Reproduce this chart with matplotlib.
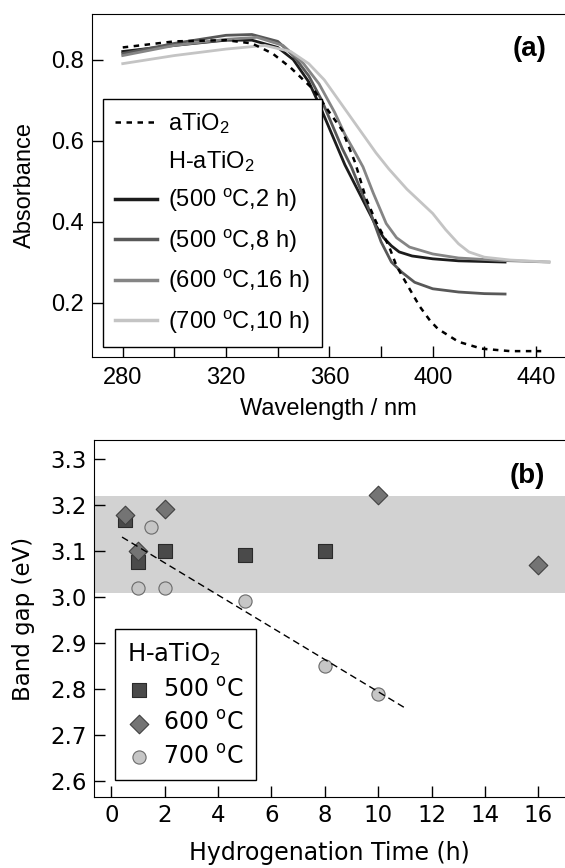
import matplotlib
matplotlib.use("Agg")
import matplotlib.pyplot as plt
from matplotlib.lines import Line2D

plt.rcParams['font.family'] = ['Liberation Sans', 'DejaVu Sans']
plt.rcParams['mathtext.default'] = 'regular'

# ---- panel (a): absorbance spectra ----
wl_a = [280, 300, 320, 330, 338, 345, 354, 360, 365, 370, 374, 378, 383, 386, 390, 395, 399, 402, 410, 419, 430, 442]
abs_a = [0.83, 0.845, 0.848, 0.84, 0.815, 0.78, 0.725, 0.67, 0.625, 0.545, 0.46, 0.40, 0.34, 0.29, 0.245, 0.19, 0.155, 0.135, 0.103, 0.086, 0.08, 0.08]

wl_500_2 = [280, 300, 320, 330, 340, 346, 352, 356, 360, 366, 370, 374, 378, 381, 384, 387, 392, 400, 410, 428]
abs_500_2 = [0.82, 0.835, 0.848, 0.848, 0.83, 0.80, 0.745, 0.69, 0.63, 0.54, 0.49, 0.44, 0.39, 0.36, 0.34, 0.325, 0.315, 0.308, 0.303, 0.30]

wl_500_8 = [280, 300, 320, 330, 340, 346, 352, 357, 361, 365, 368.5, 372, 376, 380, 384, 388, 393, 400, 410, 420, 428]
abs_500_8 = [0.815, 0.84, 0.86, 0.862, 0.845, 0.81, 0.76, 0.70, 0.64, 0.58, 0.535, 0.48, 0.42, 0.35, 0.30, 0.275, 0.25, 0.234, 0.226, 0.222, 0.221]

wl_600_16 = [280, 300, 320, 332, 342, 350, 356, 362, 366, 370, 373, 377, 382, 386, 391, 400, 410, 426, 445]
abs_600_16 = [0.81, 0.835, 0.85, 0.855, 0.835, 0.79, 0.74, 0.67, 0.615, 0.57, 0.535, 0.47, 0.395, 0.36, 0.337, 0.32, 0.31, 0.304, 0.30]

wl_700_10 = [280, 300, 320, 335, 345, 352, 358, 363, 368, 373, 378, 383, 390, 395, 400, 405, 410, 414, 420, 430, 445]
abs_700_10 = [0.79, 0.81, 0.826, 0.835, 0.82, 0.79, 0.75, 0.705, 0.66, 0.615, 0.57, 0.53, 0.48, 0.45, 0.42, 0.38, 0.345, 0.325, 0.312, 0.305, 0.30]

# ---- panel (b): band gap vs hydrogenation time ----
t_500 = [0.5, 1, 2, 5, 8]
eg_500 = [3.168, 3.076, 3.10, 3.09, 3.10]
t_600 = [0.5, 1, 2, 10, 16]
eg_600 = [3.177, 3.10, 3.19, 3.221, 3.069]
t_700 = [1, 1.5, 2, 5, 8, 10]
eg_700 = [3.02, 3.151, 3.02, 2.99, 2.849, 2.789]
fit_t = [0.4, 11.05]
fit_eg = [3.13, 2.757]
band_lo, band_hi = 3.008, 3.219

W, H = 565, 868
fig = plt.figure(figsize=(W / 100, H / 100), dpi=100)

# panel a
ax1 = fig.add_axes([92/W, 511/H, 473/W, 343/H])
ax1.plot(wl_a, abs_a, color='black', lw=1.8, ls=(0, (2.2, 2.2)), zorder=5)
ax1.plot(wl_500_2, abs_500_2, color='#1c1c1c', lw=2)
ax1.plot(wl_500_8, abs_500_8, color='#585858', lw=2)
ax1.plot(wl_600_16, abs_600_16, color='#858585', lw=2)
ax1.plot(wl_700_10, abs_700_10, color='#c4c4c4', lw=2)
ax1.set_xlim(268.1, 451.2)
ax1.set_ylim(0.0655, 0.9126)
ax1.set_xticks([280, 320, 360, 400, 440])
ax1.set_xticks([300, 340, 380, 420], minor=True)
ax1.set_yticks([0.2, 0.4, 0.6, 0.8])
ax1.tick_params(which='both', direction='in', length=8, width=1, labelsize=17)
ax1.tick_params(axis='x', pad=7)
ax1.tick_params(axis='y', pad=6)
ax1.spines['right'].set_visible(False)
ax1.set_xlabel('Wavelength / nm', fontsize=17, labelpad=7)
ax1.set_ylabel('Absorbance', fontsize=17, labelpad=11)
fig.text(530/W, 1 - 49/H, '(a)', fontsize=20, fontweight='bold', ha='center', va='center')

handles_a = [
    Line2D([], [], color='black', lw=1.8, ls=(0, (2.2, 2.2))),
    Line2D([], [], color='none'),
    Line2D([], [], color='#1c1c1c', lw=2.5),
    Line2D([], [], color='#585858', lw=2.5),
    Line2D([], [], color='#858585', lw=2.5),
    Line2D([], [], color='#c4c4c4', lw=2.5),
]
labels_a = ['aTiO$_2$', 'H-aTiO$_2$', '(500 $^{o}$C,2 h)', '(500 $^{o}$C,8 h)',
            '(600 $^{o}$C,16 h)', '(700 $^{o}$C,10 h)']
leg1 = ax1.legend(handles_a, labels_a, loc='upper left', bbox_to_anchor=(11/473, 258/343),
                  borderaxespad=0, fontsize=17, frameon=True, fancybox=False,
                  edgecolor='black', framealpha=1, handlelength=1.8, handletextpad=0.45,
                  labelspacing=0.56, borderpad=0.5)
leg1.get_frame().set_linewidth(1.0)

# panel b
ax2 = fig.add_axes([94/W, 71/H, 471/W, 357/H])
ax2.axhspan(band_lo, band_hi, color='#d2d2d2', lw=0, zorder=0)
ax2.scatter(t_500, eg_500, marker='s', s=100, color='#4a4a4a', edgecolors='#2a2a2a', lw=0.8, zorder=3, label='500 $^{o}$C')
ax2.scatter(t_600, eg_600, marker='D', s=90, color='#747474', edgecolors='#404040', lw=0.8, zorder=4, label='600 $^{o}$C')
ax2.scatter(t_700, eg_700, marker='o', s=90, color='#c6c6c6', edgecolors='#6a6a6a', lw=0.8, zorder=4, label='700 $^{o}$C')
ax2.plot(fit_t, fit_eg, color='black', lw=1.0, ls=(0, (5, 3)), zorder=6)
ax2.set_xlim(-0.65, 17.0)
ax2.set_ylim(2.565, 3.341)
ax2.set_xticks(range(0, 17, 2))
ax2.set_yticks([2.6, 2.7, 2.8, 2.9, 3.0, 3.1, 3.2, 3.3])
ax2.set_yticklabels(['2.6', '2.7', '2.8', '2.9', '3.0', '3.1', '3.2', '3.3'])
ax2.tick_params(direction='in', length=8, width=1, labelsize=16.5)
ax2.tick_params(axis='x', pad=5)
ax2.tick_params(axis='y', pad=5)
for lab in ax2.get_xticklabels() + ax2.get_yticklabels():
    lab.set_family('DejaVu Sans')
ax2.spines['right'].set_visible(False)
ax2.set_xlabel('Hydrogenation Time (h)', fontsize=17, family='DejaVu Sans', labelpad=10)
ax2.set_ylabel('Band gap (eV)', fontsize=16.5, family='DejaVu Sans', labelpad=11)
fig.text(527/W, 1 - 476/H, '(b)', fontsize=20, fontweight='bold', ha='center', va='center')
leg2 = ax2.legend(loc='upper left', bbox_to_anchor=(21/471, 168/357), borderaxespad=0,
                  title='H-aTiO$_2$', alignment='left',
                  frameon=True, fancybox=False, edgecolor='black', framealpha=1,
                  handlelength=1.0, handletextpad=0.53, labelspacing=0.4, borderpad=0.5,
                  scatterpoints=1, prop={'family': 'DejaVu Sans', 'size': 17})
leg2.get_title().set_family('DejaVu Sans')
leg2.get_title().set_fontsize(17.5)
leg2.get_frame().set_linewidth(1.0)

fig.savefig('out.png', dpi=100)
